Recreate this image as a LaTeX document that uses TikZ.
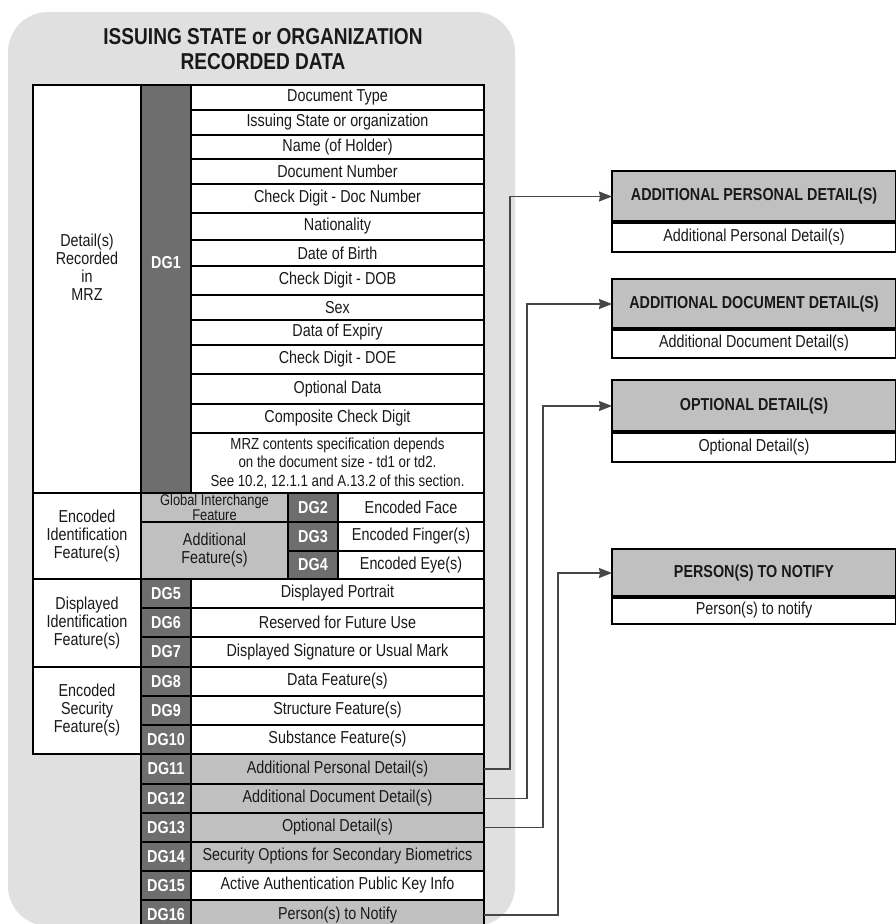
\documentclass[tikz,border=0pt]{standalone}
\usepackage{fontspec}
\setmainfont{Liberation Sans}[FakeStretch=0.83]
\usetikzlibrary{arrows.meta,positioning,calc}
\definecolor{panelgray}{RGB}{224,224,224}
\definecolor{cellgray}{RGB}{192,192,192}
\definecolor{dggray}{RGB}{110,110,110}
\definecolor{linkgray}{RGB}{70,70,70}
\definecolor{inkdark}{RGB}{25,25,25}
\tikzset{
  basecell/.style={rectangle,draw=black,line width=2pt,inner sep=0pt,outer sep=0pt,align=center,text=inkdark,font=\fontsize{17.3}{18}\selectfont},
  datacell/.style={basecell,fill=white,minimum width=293pt},
  graycell/.style={basecell,fill=cellgray,minimum width=293pt},
  dgcell/.style={basecell,fill=dggray,text=white,minimum width=50pt,font=\fontsize{17.3}{18}\selectfont\bfseries},
  groupcell/.style={basecell,fill=white,minimum width=108pt},
  hdrbox/.style={basecell,fill=cellgray,line width=1.5pt,minimum width=284pt,font=\fontsize{17.3}{18}\selectfont\bfseries},
  subbox/.style={basecell,fill=white,line width=1.5pt,minimum width=284pt},
  linkarr/.style={-{Stealth[length=13pt,width=10pt,inset=1pt]},line width=1.3pt,color=linkgray}
}

\begin{document}
\begin{tikzpicture}[x=1pt,y=-1pt]
  \useasboundingbox (0,0) rectangle (895,924);

  \node[rectangle,fill=panelgray,rounded corners=40pt,minimum width=507pt,minimum height=914pt] (panel) at (261.5,469) {};
  \node[align=center,text=inkdark,font=\fontsize{23}{25}\selectfont\bfseries] (title) at (263,49)
    {ISSUING STATE or ORGANIZATION\\RECORDED DATA};

  % DG1 - MRZ
  \node[groupcell,minimum height=408pt,
        label={[align=center,text=inkdark,font=\fontsize{17.3}{18}\selectfont,yshift=22pt]center:Detail(s)\\Recorded\\in\\MRZ}] (mrzgrp) at (87,289) {};
  \node[dgcell,minimum height=408pt,
        label={[text=white,font=\fontsize{17.3}{18}\selectfont\bfseries,yshift=26pt]center:DG1}] (dg1) at (166,289) {};
  \node[datacell,minimum height=25pt] (doctype) at (337.5,97.5) {Document Type};
  \node[datacell,minimum height=25pt] (issuer) at (337.5,122.5) {Issuing State or organization};
  \node[datacell,minimum height=24pt] (holder) at (337.5,147) {Name (of Holder)};
  \node[datacell,minimum height=25pt] (docnum) at (337.5,171.5) {Document Number};
  \node[datacell,minimum height=29pt] (cdnum) at (337.5,198.5) {Check Digit - Doc Number};
  \node[datacell,minimum height=27pt] (nation) at (337.5,226.5) {Nationality};
  \node[datacell,minimum height=26pt] (birth) at (337.5,253) {Date of Birth};
  \node[datacell,minimum height=29pt] (cdbirth) at (337.5,280.5) {Check Digit - DOB};
  \node[datacell,minimum height=25pt] (sex) at (337.5,307.5) {Sex};
  \node[datacell,minimum height=25pt] (expiry) at (337.5,332.5) {Data of Expiry};
  \node[datacell,minimum height=29pt] (cdexpiry) at (337.5,359.5) {Check Digit - DOE};
  \node[datacell,minimum height=30pt] (optdata) at (337.5,389) {Optional Data};
  \node[datacell,minimum height=29pt] (cdcomp) at (337.5,418.5) {Composite Check Digit};
  \node[datacell,minimum height=60pt,font=\fontsize{16}{18.5}\selectfont] (mrznote) at (337.5,463)
    {MRZ contents specification depends\\on the document size - td1 or td2.\\See 10.2, 12.1.1 and A.13.2 of this section.};

  % DG2 - DG4
  \node[groupcell,minimum height=86pt] (encidgrp) at (87,536) {Encoded\\Identification\\Feature(s)};
  \node[basecell,fill=cellgray,minimum width=147pt,minimum height=29pt,font=\fontsize{15.5}{15}\selectfont] (globfeat) at (214.5,507.5)
    {Global Interchange\\Feature};
  \node[basecell,fill=cellgray,minimum width=147pt,minimum height=57pt] (addfeat) at (214.5,550.5) {Additional\\Feature(s)};
  \node[dgcell,minimum height=29pt] (dg2) at (313,507.5) {DG2};
  \node[dgcell,minimum height=29pt] (dg3) at (313,536.5) {DG3};
  \node[dgcell,minimum height=28pt] (dg4) at (313,565) {DG4};
  \node[basecell,fill=white,minimum width=146pt,minimum height=29pt] (face) at (411,507.5) {Encoded Face};
  \node[basecell,fill=white,minimum width=146pt,minimum height=29pt] (finger) at (411,536.5) {Encoded Finger(s)};
  \node[basecell,fill=white,minimum width=146pt,minimum height=28pt] (eye) at (411,565) {Encoded Eye(s)};

  % DG5 - DG7
  \node[groupcell,minimum height=88pt] (dispgrp) at (87,623) {Displayed\\Identification\\Feature(s)};
  \node[dgcell,minimum height=29pt] (dg5) at (166,593.5) {DG5};
  \node[dgcell,minimum height=29pt] (dg6) at (166,622.5) {DG6};
  \node[dgcell,minimum height=30pt] (dg7) at (166,652) {DG7};
  \node[datacell,minimum height=29pt] (portrait) at (337.5,593.5) {Displayed Portrait};
  \node[datacell,minimum height=29pt] (reserved) at (337.5,622.5) {Reserved for Future Use};
  \node[datacell,minimum height=30pt] (signature) at (337.5,652) {Displayed Signature or Usual Mark};

  % DG8 - DG10
  \node[groupcell,minimum height=87pt] (secgrp) at (87,710.5) {Encoded\\Security\\Feature(s)};
  \node[dgcell,minimum height=29pt] (dg8) at (166,681.5) {DG8};
  \node[dgcell,minimum height=29pt] (dg9) at (166,710.5) {DG9};
  \node[dgcell,minimum height=29pt] (dg10) at (166,739.5) {DG10};
  \node[datacell,minimum height=29pt] (datafeat) at (337.5,681.5) {Data Feature(s)};
  \node[datacell,minimum height=29pt] (structfeat) at (337.5,710.5) {Structure Feature(s)};
  \node[datacell,minimum height=29pt] (substfeat) at (337.5,739.5) {Substance Feature(s)};

  % DG11 - DG16
  \node[dgcell,minimum height=30pt] (dg11) at (166,769) {DG11};
  \node[dgcell,minimum height=29pt] (dg12) at (166,798.5) {DG12};
  \node[dgcell,minimum height=29pt] (dg13) at (166,827.5) {DG13};
  \node[dgcell,minimum height=29pt] (dg14) at (166,856.5) {DG14};
  \node[dgcell,minimum height=29pt] (dg15) at (166,885.5) {DG15};
  \node[dgcell,minimum height=30pt] (dg16) at (166,915) {DG16};
  \node[graycell,minimum height=30pt] (persdet) at (337.5,769) {Additional Personal Detail(s)};
  \node[graycell,minimum height=29pt] (docdet) at (337.5,798.5) {Additional Document Detail(s)};
  \node[graycell,minimum height=29pt] (optdet) at (337.5,827.5) {Optional Detail(s)};
  \node[graycell,minimum height=29pt] (secopt) at (337.5,856.5) {Security Options for Secondary Biometrics};
  \node[datacell,minimum height=29pt] (actauth) at (337.5,885.5) {Active Authentication Public Key Info};
  \node[graycell,minimum height=30pt] (notify) at (337.5,915) {Person(s) to Notify};

  % detail boxes on the right
  \node[hdrbox,minimum height=51pt] (persHdr) at (754,196.5) {ADDITIONAL PERSONAL DETAIL(S)};
  \node[subbox,minimum height=30pt] (persSub) at (754,237) {Additional Personal Detail(s)};
  \node[hdrbox,minimum height=50pt] (docHdr) at (754,304) {ADDITIONAL DOCUMENT DETAIL(S)};
  \node[subbox,minimum height=29pt] (docSub) at (754,343.5) {Additional Document Detail(s)};
  \node[hdrbox,minimum height=52pt] (optHdr) at (754,406) {OPTIONAL DETAIL(S)};
  \node[subbox,minimum height=30pt] (optSub) at (754,447) {Optional Detail(s)};
  \node[hdrbox,minimum height=48pt] (notifyHdr) at (754,573) {PERSON(S) TO NOTIFY};
  \node[subbox,minimum height=27pt] (notifySub) at (754,610.5) {Person(s) to notify};
  \draw[line width=3.5pt] (persHdr.south west) -- (persHdr.south east);
  \draw[line width=3.5pt] (docHdr.south west) -- (docHdr.south east);
  \draw[line width=3.5pt] (optHdr.south west) -- (optHdr.south east);
  \draw[line width=3.5pt] (notifyHdr.south west) -- (notifyHdr.south east);

  \draw[linkarr] (persdet.east) -- ++(26,0) |- (persHdr.west);
  \draw[linkarr] (docdet.east) -- ++(43,0) |- (docHdr.west);
  \draw[linkarr] (optdet.east) -- ++(59,0) |- (optHdr.west);
  \draw[linkarr] (notify.east) -- ++(74,0) |- (notifyHdr.west);
\end{tikzpicture}
\end{document}
